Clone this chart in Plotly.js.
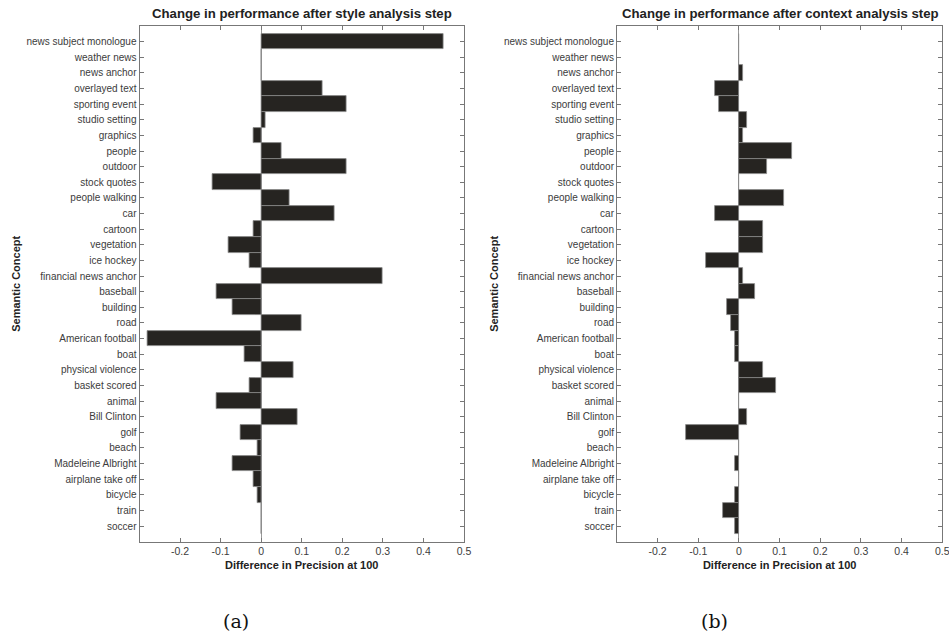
<!DOCTYPE html>
<html>
<head>
<meta charset="utf-8">
<script src="https://cdn.plot.ly/plotly-3.0.1.min.js"></script>
<style>html,body{margin:0;padding:0;background:#fff;}#chart{width:949px;height:637px;}</style>
</head>
<body>
<div id="chart"></div>
<script>
const concepts = ["news subject monologue","weather news","news anchor","overlayed text","sporting event","studio setting","graphics","people","outdoor","stock quotes","people walking","car","cartoon","vegetation","ice hockey","financial news anchor","baseball","building","road","American football","boat","physical violence","basket scored","animal","Bill Clinton","golf","beach","Madeleine Albright","airplane take off","bicycle","train","soccer"];
const styleDiff = [0.45,0,0,0.15,0.21,0.01,-0.02,0.05,0.21,-0.12,0.07,0.18,-0.02,-0.08,-0.03,0.30,-0.11,-0.07,0.10,-0.28,-0.04,0.08,-0.03,-0.11,0.09,-0.05,-0.01,-0.07,-0.02,-0.01,0,0];
const contextDiff = [0,0,0.01,-0.06,-0.05,0.02,0.01,0.13,0.07,0,0.11,-0.06,0.06,0.06,-0.08,0.01,0.04,-0.03,-0.02,-0.01,-0.01,0.06,0.09,0,0.02,-0.13,0,-0.01,0,-0.01,-0.04,-0.01];
const xTicks = [-0.2,-0.1,0,0.1,0.2,0.3,0.4,0.5];
const xTickText = ["-0.2","-0.1","0","0.1","0.2","0.3","0.4","0.5"];
const chartTitles = ["Change in performance after style analysis step","Change in performance after context analysis step"];
const xTitle = "Difference in Precision at 100";
const yTitle = "Semantic Concept";
const captions = ["(a)","(b)"];

const barColor = "#262421";
const fontFam = "Liberation Sans, Arial, sans-serif";
function bar(x, xa, ya){
  return {type:"bar", orientation:"h", x:x, y:concepts, xaxis:xa, yaxis:ya, width:1,
    marker:{color:barColor, line:{color:"#8a8a8a", width:0.8}}, hoverinfo:"x+y", showlegend:false};
}
function xax(domain, anchor){
  return {domain:domain, anchor:anchor, range:[-0.3,0.5], tickvals:xTicks, ticktext:xTickText,
    ticks:"inside", ticklen:4, tickcolor:"#777", mirror:"allticks", showline:true, linecolor:"#777", linewidth:1,
    showgrid:false, zeroline:true, zerolinecolor:"#999", zerolinewidth:1, ticklabeloverflow:"allow",
    tickfont:{family:fontFam, size:10.5, color:"#3c3c3c"},
    title:{text:xTitle, font:{family:fontFam, size:11, color:"#222", weight:"bold"}, standoff:5}, fixedrange:true};
}
function yax(domain, anchor){
  return {domain:domain, anchor:anchor, type:"category", range:[32,-1], categoryorder:"array", categoryarray:concepts,
    ticks:"inside", ticklen:4, tickcolor:"#777", mirror:"allticks", showline:true, linecolor:"#777", linewidth:1,
    showgrid:false, zeroline:false, tickfont:{family:fontFam, size:10, color:"#3c3c3c"},
    title:{text:yTitle, font:{family:fontFam, size:11, color:"#222", weight:"bold"}, standoff:3}, fixedrange:true};
}
const yDom = [1-541.7/637, 1-26/637];
const layout = {
  width:949, height:637, margin:{l:0,r:0,t:0,b:0}, paper_bgcolor:"#fff", plot_bgcolor:"#fff",
  bargap:0, barmode:"group",
  xaxis: xax([139.5/949, 464/949], "y"),
  yaxis: yax(yDom, "x"),
  xaxis2: xax([617/949, 942.3/949], "y2"),
  yaxis2: yax(yDom, "x2"),
  annotations:[
    {text:"<b>"+chartTitles[0]+"</b>", x:302/949, y:1-13/637, xref:"paper", yref:"paper", xanchor:"center", yanchor:"middle", showarrow:false, font:{family:fontFam, size:13.2, color:"#222"}},
    {text:"<b>"+chartTitles[1]+"</b>", x:780/949, y:1-13/637, xref:"paper", yref:"paper", xanchor:"center", yanchor:"middle", showarrow:false, font:{family:fontFam, size:13.2, color:"#222"}},
    {text:captions[0], x:236/949, y:1-621/637, xref:"paper", yref:"paper", xanchor:"center", yanchor:"middle", showarrow:false, font:{family:"DejaVu Serif, Liberation Serif, serif", size:19, color:"#111"}},
    {text:captions[1], x:714/949, y:1-621/637, xref:"paper", yref:"paper", xanchor:"center", yanchor:"middle", showarrow:false, font:{family:"DejaVu Serif, Liberation Serif, serif", size:19, color:"#111"}}
  ]
};
Plotly.newPlot("chart", [bar(styleDiff,"x","y"), bar(contextDiff,"x2","y2")], layout, {displayModeBar:false});
</script>
</body>
</html>
